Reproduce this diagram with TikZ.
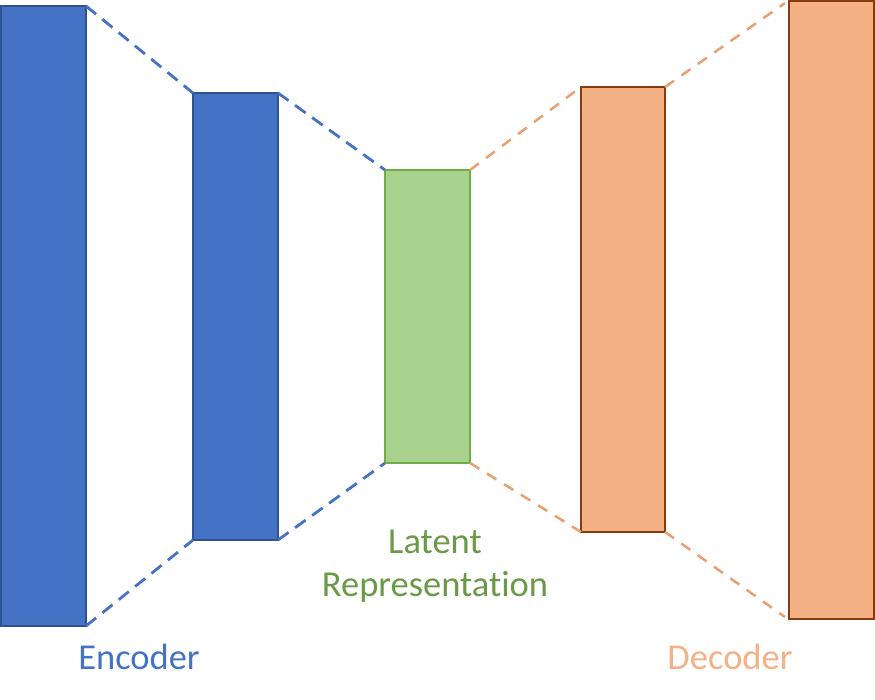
\documentclass[tikz,border=0pt]{standalone}
\usepackage{fontspec}
\setmainfont{Carlito}[Ligatures=NoCommon]
\definecolor{encfill}{HTML}{4472C4}
\definecolor{encdraw}{HTML}{2F528F}
\definecolor{latfill}{HTML}{A9D18E}
\definecolor{latdraw}{HTML}{70AD47}
\definecolor{lattext}{HTML}{6A9A48}
\definecolor{decfill}{HTML}{F4B183}
\definecolor{decdraw}{HTML}{843C0C}
\definecolor{decdashc}{HTML}{E8A070}
\begin{document}
\begin{tikzpicture}[x=1pt,y=-1pt,
  encline/.style={encfill, line width=2.8pt, dash pattern=on 13pt off 8pt},
  decline/.style={decdashc, line width=2.5pt, dash pattern=on 11pt off 9pt},
  txtlabel/.style={font=\fontsize{36.5}{43}\selectfont, align=center}]
\useasboundingbox (0,0) rectangle (875,700);
\path[fill=encfill, draw=encdraw, line width=1.5pt] (1,6) rectangle (86,626);
\coordinate (e1tr) at (86,6); \coordinate (e1br) at (86,626);
\path[fill=encfill, draw=encdraw, line width=1.5pt] (193,93) rectangle (278,540);
\coordinate (e2tl) at (193,93); \coordinate (e2bl) at (193,540);
\coordinate (e2tr) at (278,93); \coordinate (e2br) at (278,540);
\path[fill=latfill, draw=latdraw, line width=1.5pt] (385,170) rectangle (470,463);
\coordinate (ltl) at (385,170); \coordinate (lbotl) at (385,463);
\coordinate (ltr) at (470,170); \coordinate (lbotr) at (470,463);
\path[fill=decfill, draw=decdraw, line width=1.5pt] (581,87) rectangle (665,532);
\coordinate (d1tl) at (581,87); \coordinate (d1bl) at (581,532);
\coordinate (d1tr) at (665,87); \coordinate (d1br) at (665,532);
\path[fill=decfill, draw=decdraw, line width=1.5pt] (789,1) rectangle (874,619);
\coordinate (d2tl) at (785,3); \coordinate (d2bl) at (785,617);
\draw[encline] (e1tr) -- (e2tl);
\draw[encline] (e1br) -- (e2bl);
\draw[encline] (e2tr) -- (ltl);
\draw[encline] (e2br) -- (lbotl);
\draw[decline] (ltr) -- (d1tl);
\draw[decline] (lbotr) -- (d1bl);
\draw[decline] (d1tr) -- (d2tl);
\draw[decline] (d1br) -- (d2bl);
\node[txtlabel, text=encfill] (enc) at (139,657) {Encoder};
\node[txtlabel, text=lattext] (lat) at (435,566) {Latent\\Representation};
\node[txtlabel, text=decfill] (dec) at (730,657) {Decoder};
\end{tikzpicture}
\end{document}
